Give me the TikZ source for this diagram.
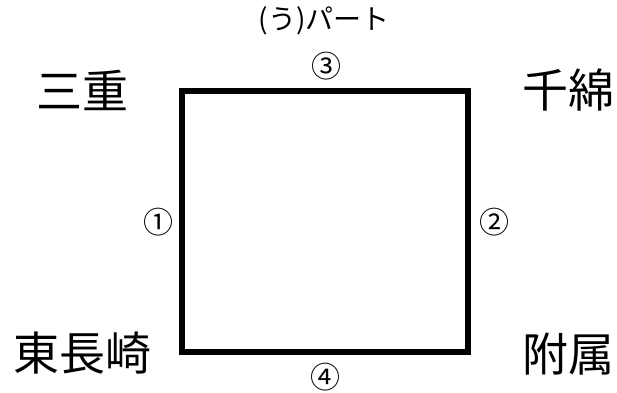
\documentclass[tikz,border=0pt]{standalone}
\usepackage{fontspec}
\setmainfont{Noto Sans CJK JP}
\usetikzlibrary{positioning}

\begin{document}
\begin{tikzpicture}[x=1pt, y=-1pt,
station/.style={font=\fontsize{46}{46}\selectfont, inner sep=0pt},
num/.style={font=\fontsize{30}{30}\selectfont, inner sep=0pt}]
\useasboundingbox (0,0) rectangle (617,392);
\node [draw, line width=6pt, minimum width=286pt, minimum height=261pt, inner sep=0pt] (sq) at (325,221.5) {};
\node [font=\fontsize{28}{28}\selectfont, inner sep=0pt] (title) at (324,21) {(う)パート};
\node [station] (mie) at (82,90) {三重};
\node [station] (chiwata) at (568,90) {千綿};
\node [station] (higashi) at (82,353) {東長崎};
\node [station] (fuzoku) at (568,354) {附属};
\node [num] (n1) at (158,222) {①};
\node [num] (n2) at (494,222) {②};
\node [num] (n3) at (326,66) {③};
\node [num] (n4) at (325,377) {④};
\end{tikzpicture}
\end{document}
